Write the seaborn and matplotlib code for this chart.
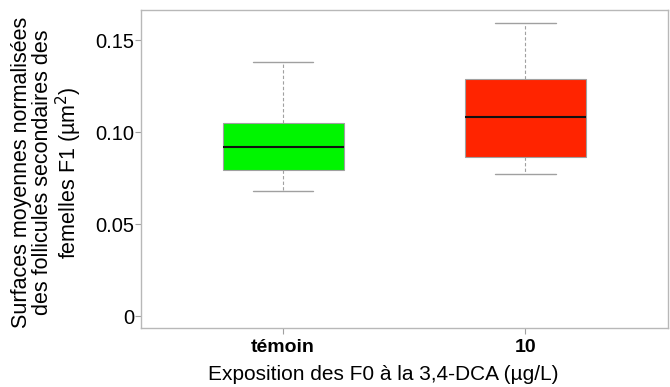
import matplotlib
matplotlib.use("Agg")
import matplotlib.pyplot as plt
import seaborn as sns
import pandas as pd
import numpy as np

sns.set_theme(style='white')
plt.rcParams['font.family'] = ['Liberation Sans', 'DejaVu Sans']
plt.rcParams['text.color'] = 'black'
plt.rcParams['axes.labelcolor'] = 'black'
plt.rcParams['xtick.color'] = 'black'
plt.rcParams['ytick.color'] = 'black'

# five-number summaries (min, q1, median, q3, max)
groups = ['témoin', '10']
temoin_vals = [0.0681, 0.0793, 0.0920, 0.1047, 0.1380]
dix_vals = [0.0772, 0.0862, 0.1083, 0.1290, 0.1590]
colors = ['#00F500', '#FF2400']
yticks = [0, 0.05, 0.10, 0.15]
ytick_labels = ['0', '0.05', '0.10', '0.15']

df = pd.DataFrame({
    'group': [groups[0]] * len(temoin_vals) + [groups[1]] * len(dix_vals),
    'value': temoin_vals + dix_vals,
})

fig = plt.figure(figsize=(6.7, 3.87), dpi=100)
ax = fig.add_axes([0.2104, 0.1525, 0.787, 0.8215])

grey = '#A0A0A0'
sns.boxplot(data=df, x='group', y='value', hue='group', palette=colors,
            order=groups, whis=(0, 100), width=0.5, legend=False, ax=ax,
            saturation=1,
            boxprops=dict(edgecolor=grey, linewidth=0.8),
            whiskerprops=dict(color=grey, linestyle=(0, (3, 2)), linewidth=0.8),
            capprops=dict(color=grey, linewidth=1.0),
            medianprops=dict(color='#111111', linewidth=1.5),
            capwidths=0.25, showfliers=False)

ax.set_xlim(-0.587, 1.59)
ax.set_ylim(-0.0065, 0.1663)
ax.set_yticks(yticks)
ax.set_yticklabels(ytick_labels, fontsize=14.5)
ax.set_xticks([0, 1])
ax.set_xticklabels(groups, fontsize=14, fontweight='bold')
ax.tick_params(axis='both', direction='out', length=4, color=grey, width=0.8,
               left=True, bottom=True)
ax.tick_params(axis='y', pad=1)
ax.tick_params(axis='x', pad=4)
for s in ax.spines.values():
    s.set_color('#B8B8B8')
    s.set_linewidth(1.0)

ax.set_xlabel('Exposition des F0 à la 3,4-DCA (µg/L)', fontsize=15)
ax.xaxis.set_label_coords(0.459, -0.118)
ax.set_ylabel('Surfaces moyennes normalisées\ndes follicules secondaires des\nfemelles F1 (µm$^2$)',
              fontsize=15.5, linespacing=1.02)
ax.yaxis.set_label_coords(-0.108, 0.49)

fig.savefig('out.png', dpi=100)
